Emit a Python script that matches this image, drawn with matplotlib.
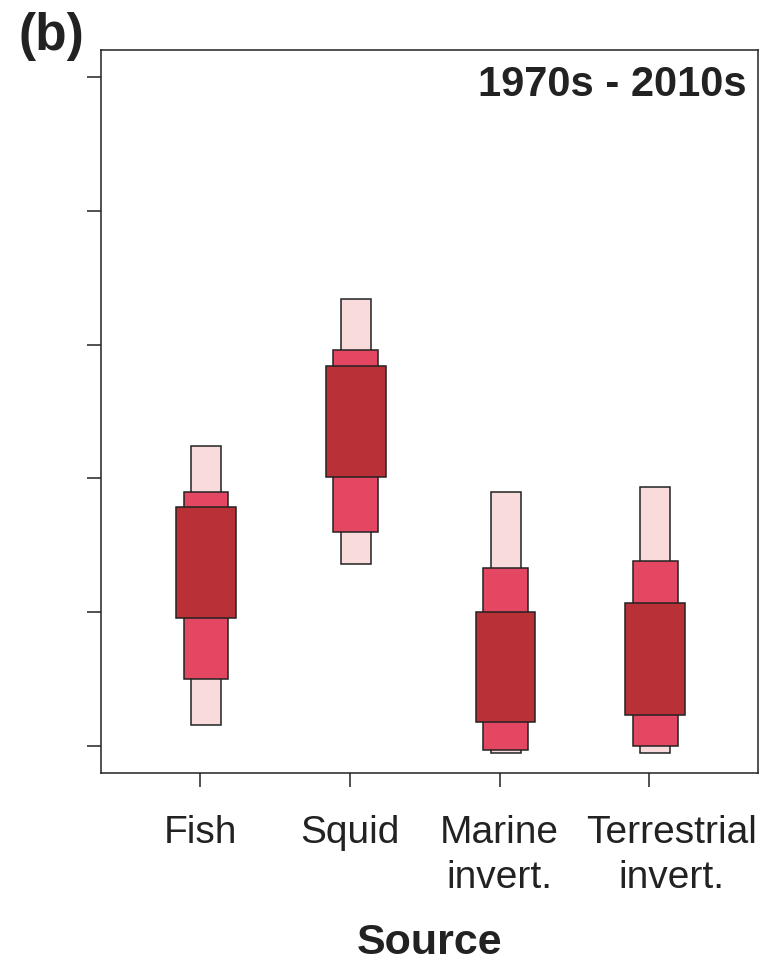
import matplotlib
matplotlib.use("Agg")
import matplotlib.pyplot as plt
import matplotlib.transforms as mtransforms
import numpy as np

plt.rcParams['font.family'] = ['Liberation Sans', 'DejaVu Sans']

# data: credible intervals per source (outer / middle / inner)
sources = ['Fish', 'Squid', 'Marine\ninvert.', 'Terrestrial\ninvert.']
outer_lo = [0.16, 1.36, -0.05, -0.05]
outer_hi = [2.24, 3.34, 1.90, 1.94]
mid_lo = [0.50, 1.60, -0.03, 0.00]
mid_hi = [1.90, 2.96, 1.33, 1.38]
inner_lo = [0.96, 2.01, 0.18, 0.23]
inner_hi = [1.79, 2.84, 1.00, 1.07]

col_outer = '#f9dbdb'
col_mid = '#e34762'
col_inner = '#b93136'
edge = '#222222'

fig = plt.figure(figsize=(7.71, 9.65), dpi=100)
ax = fig.add_axes([0.131, 0.199, 0.852, 0.749])

x = np.arange(1, len(sources) + 1)
xb = x + 0.04

ax.bar(xb, np.array(outer_hi) - np.array(outer_lo), bottom=outer_lo,
       width=0.2, color=col_outer, edgecolor=edge, linewidth=1.1, zorder=2)
ax.bar(xb, np.array(mid_hi) - np.array(mid_lo), bottom=mid_lo,
       width=0.3, color=col_mid, edgecolor=edge, linewidth=1.1, zorder=3)
ax.bar(xb, np.array(inner_hi) - np.array(inner_lo), bottom=inner_lo,
       width=0.4, color=col_inner, edgecolor=edge, linewidth=1.1, zorder=4)

ax.set_xlim(0.339, 4.725)
ax.set_ylim(-0.2, 5.2)
ax.set_yticks(np.arange(0, 6))
ax.set_yticklabels([])
ax.set_xticks(x)
ax.set_xticklabels(sources, fontsize=28, color='#222222', linespacing=1.35)
ax.tick_params(axis='both', length=10, width=1.1, color='#222222')
ax.tick_params(axis='x', pad=20)
for s in ax.spines.values():
    s.set_linewidth(1.1)
    s.set_color('#222222')

# last label sits a bit right of its tick in the original
lab = ax.get_xticklabels()[-1]
lab.set_transform(lab.get_transform() +
                  mtransforms.ScaledTranslation(0.22, 0, fig.dpi_scale_trans))

ax.set_xlabel('Source', fontsize=31, fontweight='bold', color='#222222',
              labelpad=19)

ax.text(0.983, 0.936, '1970s - 2010s', transform=ax.transAxes,
        ha='right', va='baseline', fontsize=30, fontweight='bold',
        color='#222222')
fig.text(0.024, 0.948, '(b)', ha='left', va='baseline', fontsize=37,
         fontweight='bold', color='#222222')

fig.savefig('out.png', dpi=100)
